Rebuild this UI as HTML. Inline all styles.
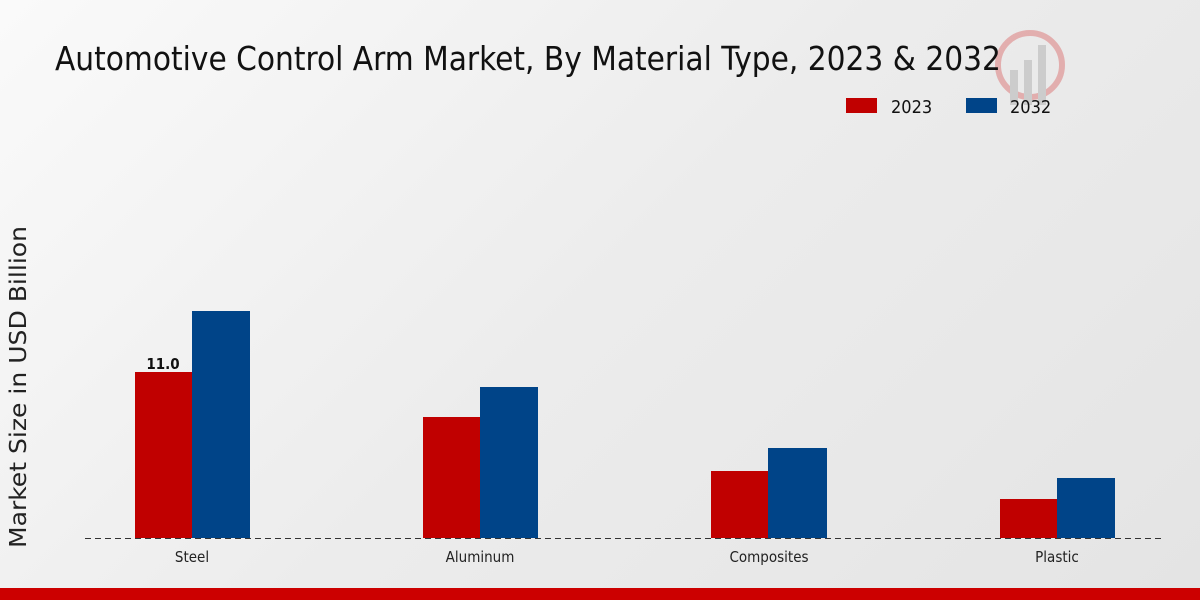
<!DOCTYPE html>
<html><head><meta charset="utf-8"><style>
html,body{margin:0;padding:0;}
body{width:1200px;height:600px;overflow:hidden;background:linear-gradient(135deg,#fafafa 0%,#ececec 50%,#e4e4e4 100%);font-family:"DejaVu Sans Condensed","DejaVu Sans","Liberation Sans",sans-serif;font-stretch:condensed;}
</style></head><body>
<svg width="1200" height="600" xmlns="http://www.w3.org/2000/svg" style="position:absolute;left:0;top:0">
<g opacity="0.25">
<circle cx="1030" cy="65" r="32" fill="none" stroke="#c00" stroke-width="6"/>
<rect x="1010" y="70" width="8" height="35" fill="#777"/>
<rect x="1024" y="60" width="8" height="45" fill="#777"/>
<rect x="1038" y="45" width="8" height="60" fill="#777"/>
</g>
<text x="55" y="70" font-size="33" fill="#111" font-family="DejaVu Sans Condensed, DejaVu Sans, sans-serif">Automotive Control Arm Market, By Material Type, 2023 &amp; 2032</text>
<rect x="846" y="98" width="31" height="15" fill="#c00000"/>
<text x="891" y="113" font-size="18" fill="#111">2023</text>
<rect x="966" y="98" width="31" height="15" fill="#004488"/>
<text x="1010" y="113" font-size="18" fill="#111">2032</text>
<text transform="translate(26,387) rotate(-90)" text-anchor="middle" font-size="23" fill="#222" font-family="DejaVu Sans, sans-serif" textLength="322" lengthAdjust="spacingAndGlyphs">Market Size in USD Billion</text>
<rect x="135" y="372" width="57" height="166" fill="#c00000"/>
<rect x="192" y="311" width="58" height="227" fill="#004488"/>
<rect x="423" y="417" width="57" height="121" fill="#c00000"/>
<rect x="480" y="387" width="58" height="151" fill="#004488"/>
<rect x="711" y="471" width="57" height="67" fill="#c00000"/>
<rect x="768" y="448" width="59" height="90" fill="#004488"/>
<rect x="1000" y="499" width="57" height="39" fill="#c00000"/>
<rect x="1057" y="478" width="58" height="60" fill="#004488"/>
<line x1="85" y1="538.5" x2="1165" y2="538.5" stroke="#333" stroke-width="1" stroke-dasharray="6,4"/>
<text x="163" y="369" text-anchor="middle" font-size="15" font-weight="bold" fill="#111" font-family="DejaVu Sans, sans-serif">11.0</text>
<g font-size="15" fill="#222" text-anchor="middle">
<text x="192" y="562">Steel</text>
<text x="480" y="562">Aluminum</text>
<text x="769" y="562">Composites</text>
<text x="1057" y="562">Plastic</text>
</g>
<rect x="0" y="588" width="1200" height="12" fill="#cc0000"/>
</svg>
</body></html>
